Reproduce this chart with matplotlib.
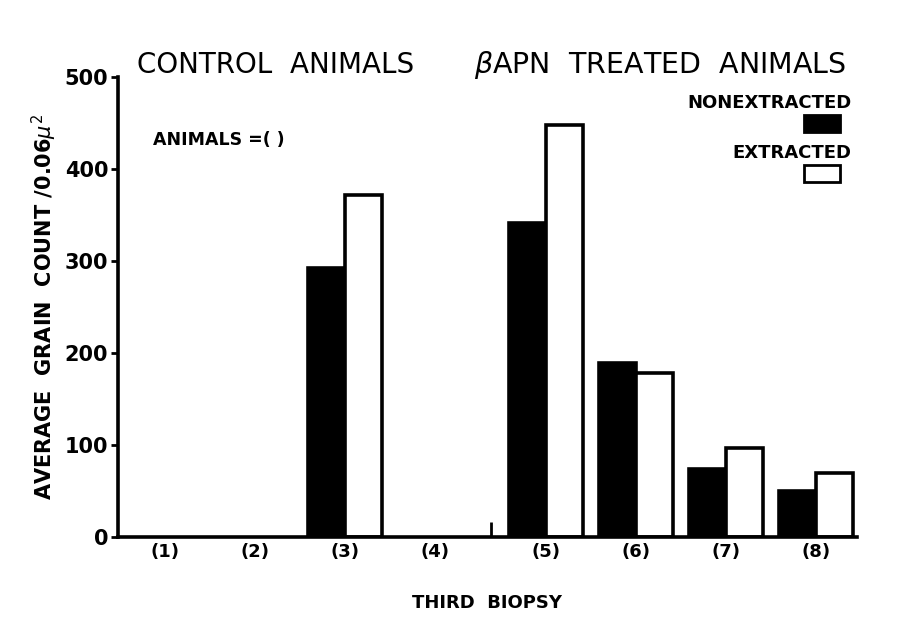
import numpy as np
import matplotlib
matplotlib.use('agg')
import matplotlib.pyplot as plt
from matplotlib.patches import Rectangle

# third biopsy groups, (1)-(4) control, (5)-(8) BAPN treated
labels = ['(1)', '(2)', '(3)', '(4)', '(5)', '(6)', '(7)', '(8)']
nonextracted = [0, 0, 292, 0, 341, 189, 74, 50]
extracted = [0, 0, 372, 0, 448, 178, 97, 70]
has_data = [False, False, True, False, True, True, True, True]

GROUP_GAP = 0.22
BAR_W = 0.41
LW = 2.6

idx = np.arange(len(labels))
pos = idx + np.where(idx >= 4, GROUP_GAP, 0.0)

fig = plt.figure(figsize=(9, 6.35), dpi=100)
ax = fig.add_axes([0.131, 0.154, 0.821, 0.725])

for p, a, b, ok in zip(pos, nonextracted, extracted, has_data):
    if not ok:
        continue
    ax.bar(p - BAR_W / 2, a, width=BAR_W, color='black', edgecolor='black', linewidth=LW)
    ax.bar(p + BAR_W / 2, b, width=BAR_W, color='white', edgecolor='black', linewidth=LW)

# small divider stub between the groups
mid = (pos[3] + pos[4]) / 2
ax.vlines(mid, 0, 17, color='black', linewidth=2)

ax.set_xlim(pos[0] - 0.52, pos[-1] + 0.45)
ax.set_ylim(0, 500)
ax.spines['top'].set_visible(False)
ax.spines['right'].set_visible(False)
ax.spines['left'].set_linewidth(LW)
ax.spines['bottom'].set_linewidth(LW)

ax.set_yticks([0, 100, 200, 300, 400, 500])
ax.set_yticklabels(['0', '100', '200', '300', '400', '500'], fontsize=15, fontweight='bold')
ax.tick_params(axis='y', direction='out', length=5, width=2, pad=2)
ax.set_xticks(pos)
ax.set_xticklabels(labels, fontsize=13, fontweight='bold')
ax.tick_params(axis='x', length=0, pad=4)

ax.set_xlabel('THIRD  BIOPSY', fontsize=13, fontweight='bold', labelpad=24)
ax.set_ylabel('AVERAGE  GRAIN  COUNT /0.06$\\mu^2$', fontsize=15, fontweight='bold', labelpad=4)

fig.text(0.152, 0.897, 'CONTROL  ANIMALS', fontsize=20, va='center', ha='left')
fig.text(0.527, 0.897, '$\\beta$APN  TREATED  ANIMALS', fontsize=20.5, va='center', ha='left')
fig.text(0.17, 0.78, 'ANIMALS =( )', fontsize=12.5, fontweight='bold', va='center', ha='left')

# legend drawn by hand like the original lettering
fig.text(0.946, 0.838, 'NONEXTRACTED', fontsize=13, fontweight='bold', ha='right', va='center')
fig.patches.append(Rectangle((0.893, 0.792), 0.04, 0.027, transform=fig.transFigure,
                             facecolor='black', edgecolor='black', linewidth=2))
fig.text(0.946, 0.759, 'EXTRACTED', fontsize=13, fontweight='bold', ha='right', va='center')
fig.patches.append(Rectangle((0.893, 0.713), 0.04, 0.027, transform=fig.transFigure,
                             facecolor='white', edgecolor='black', linewidth=2))

fig.savefig('out.png', dpi=100)
